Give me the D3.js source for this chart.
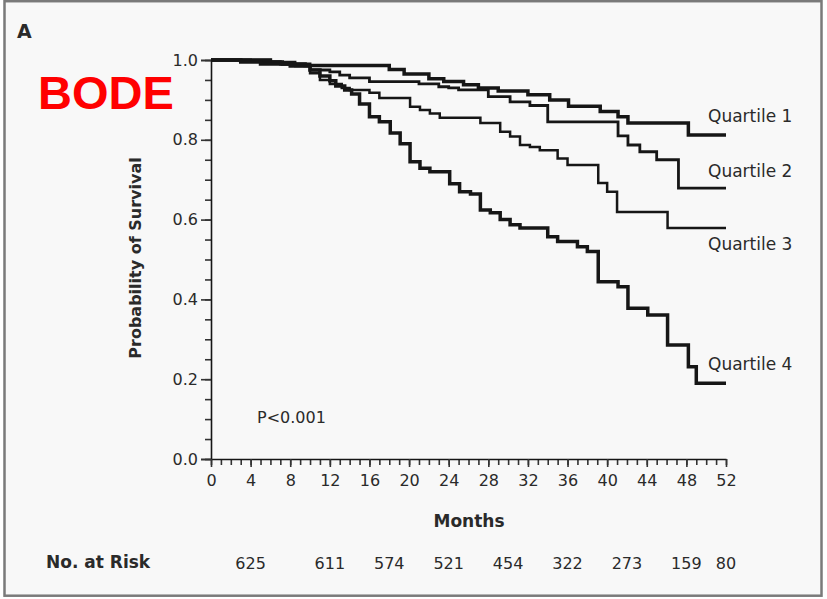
<!DOCTYPE html>
<html><head><meta charset="utf-8">
<script src="https://cdn.jsdelivr.net/npm/d3@7"></script>
<style>html,body{margin:0;padding:0;background:#fff;}svg{display:block;}</style>
</head><body>
<svg id="chart" width="827" height="599"></svg>
<script>
// ---- data ----
const xTickLabels = [0,4,8,12,16,20,24,28,32,36,40,44,48,52];
const yTickLabels = [0.0,0.2,0.4,0.6,0.8,1.0];
const riskMonths = [4,12,18,24,30,36,42,48,52];
const riskCounts = [625,611,574,521,454,322,273,159,80];
const seriesNames = ["Quartile 1","Quartile 2","Quartile 3","Quartile 4"];

const q1 = [[0,1],[6,0.995],[7.2,0.99],[9.5,0.986],[18,0.976],[19.5,0.965],[22,0.953],[23.5,0.946],[25.5,0.938],[27,0.93],[29,0.922],[32,0.913],[34.2,0.9],[36.1,0.884],[39.3,0.871],[41.1,0.858],[42.1,0.842],[48.2,0.812],[52,0.812]];
const q2 = [[0,1],[4,0.996],[7,0.99],[10,0.975],[12,0.97],[13,0.962],[14,0.955],[16,0.946],[21,0.94],[23,0.933],[24,0.93],[25,0.925],[28,0.908],[30.2,0.895],[32.2,0.886],[34,0.845],[41.1,0.81],[42.1,0.787],[43.3,0.77],[45,0.75],[47.2,0.679],[52,0.679]];
const q3 = [[0,1],[6,0.995],[8.5,0.985],[10,0.967],[11,0.95],[12,0.94],[13.2,0.93],[14,0.925],[16,0.918],[17,0.905],[20.1,0.883],[21.1,0.875],[22.1,0.866],[23.1,0.855],[27.2,0.842],[29.2,0.82],[30.2,0.808],[31.2,0.787],[32.2,0.782],[33.2,0.774],[35,0.753],[36,0.737],[39.1,0.692],[40,0.67],[41,0.619],[46.1,0.579],[52,0.579]];
const q4 = [[0,1],[3,0.995],[5,0.99],[8,0.985],[10,0.975],[11,0.96],[12,0.948],[12.6,0.935],[13.5,0.925],[14.2,0.915],[15,0.89],[16,0.858],[17,0.845],[18.1,0.817],[19.1,0.79],[20.1,0.745],[21.1,0.729],[22.1,0.72],[24.1,0.69],[25.1,0.67],[26.2,0.664],[27.2,0.624],[28.2,0.617],[29.2,0.6],[30.2,0.587],[31.2,0.579],[34,0.557],[35,0.545],[37,0.532],[38,0.52],[39.1,0.444],[41.1,0.432],[42.1,0.378],[44.1,0.361],[46.1,0.286],[48.2,0.231],[49,0.19],[52,0.19]];
const series = [q1,q2,q3,q4];

// ---- layout ----
const svg = d3.select("#chart");
const font = "'DejaVu Sans', sans-serif";
const ink = "#161616";
const txt = "#2a2a2a";

svg.append("rect").attr("x",4.5).attr("y",1.2).attr("width",817).attr("height",594.5)
  .attr("fill","#f8f8f8").attr("stroke","#7a7a7a").attr("stroke-width",2.5);

const x = d3.scaleLinear().domain([0,52]).range([211,726]);
const y = d3.scaleLinear().domain([0,1]).range([459,60]);

// y axis
const yAxisG = svg.append("g").attr("transform","translate(211,0)");
yAxisG.call(d3.axisLeft(y).tickValues(d3.range(0,1.0001,0.05)).tickSize(6).tickFormat(""));
yAxisG.call(g=>g.select(".domain").remove());
const yMaj = svg.append("g").attr("transform","translate(211,0)")
  .call(d3.axisLeft(y).tickValues(yTickLabels).tickSize(10).tickPadding(3).tickFormat(d3.format(".1f")));
yMaj.select(".domain").attr("stroke",ink).attr("stroke-width",1.6);
svg.selectAll("g .tick line").attr("stroke","#333").attr("stroke-width",1.6);
yMaj.selectAll("text").attr("font-family",font).attr("font-size",16).attr("fill",txt);

// x axis
const xMin = svg.append("g").attr("transform","translate(0,459)")
  .call(d3.axisBottom(x).tickValues(d3.range(0,53,1)).tickSize(6).tickFormat(""));
xMin.select(".domain").remove();
xMin.selectAll("line").attr("stroke","#333").attr("stroke-width",1.6);
const xMaj = svg.append("g").attr("transform","translate(0,459)")
  .call(d3.axisBottom(x).tickValues(xTickLabels).tickSize(8).tickPadding(8).tickSizeOuter(0));
xMaj.select(".domain").attr("stroke",ink).attr("stroke-width",1.6);
xMaj.selectAll("line").attr("stroke","#333").attr("stroke-width",1.6);
xMaj.selectAll("text").attr("font-family",font).attr("font-size",16).attr("fill",txt);

// curves
const line = d3.line().x(d=>x(d[0])).y(d=>y(d[1])).curve(d3.curveStepAfter);
const widths = [3.5,2.8,2.5,3.5];
series.forEach((s,i)=>{
  svg.append("path").datum(s).attr("d",line).attr("fill","none")
    .attr("stroke",ink).attr("stroke-width",widths[i]).attr("stroke-linejoin","miter");
});

// quartile labels
const labelY = [122,177,250,370];
seriesNames.forEach((n,i)=>{
  svg.append("text").attr("x",708).attr("y",labelY[i]).text(n)
    .attr("font-family",font).attr("font-size",17).attr("fill",txt);
});

// titles
svg.append("text").attr("x",17).attr("y",38).text("A")
  .attr("font-family",font).attr("font-weight","bold").attr("font-size",19).attr("fill",txt);
svg.append("text").attr("x",38).attr("y",109).text("BODE")
  .attr("font-family","'Liberation Sans', Arial, sans-serif").attr("font-weight","bold").attr("font-size",47).attr("fill","#ff0000");
svg.append("text").attr("transform","translate(141,258) rotate(-90)").attr("text-anchor","middle")
  .text("Probability of Survival").attr("font-family",font).attr("font-weight","bold").attr("font-size",16).attr("fill",txt);
svg.append("text").attr("x",469).attr("y",527).attr("text-anchor","middle").text("Months")
  .attr("font-family",font).attr("font-weight","bold").attr("font-size",17).attr("fill",txt);
svg.append("text").attr("x",257).attr("y",423).text("P<0.001")
  .attr("font-family",font).attr("font-size",16).attr("fill",txt);
svg.append("text").attr("x",46).attr("y",568).text("No. at Risk")
  .attr("font-family",font).attr("font-weight","bold").attr("font-size",17).attr("fill",txt);
riskMonths.forEach((m,i)=>{
  svg.append("text").attr("x",x(m)).attr("y",569).attr("text-anchor","middle").text(riskCounts[i])
    .attr("font-family",font).attr("font-size",16).attr("fill",txt);
});
</script>
</body></html>
